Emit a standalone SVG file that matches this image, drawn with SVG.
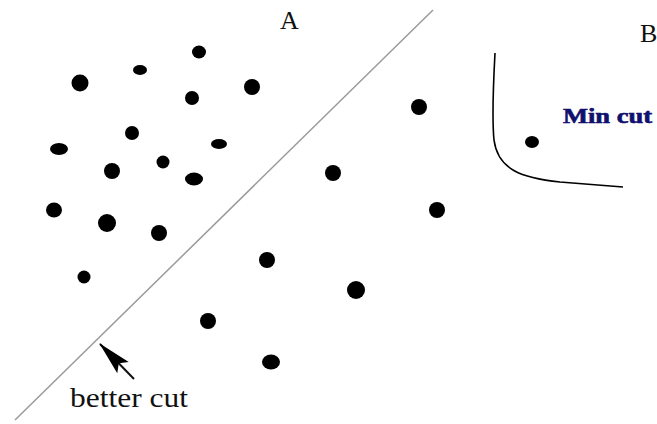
<svg xmlns="http://www.w3.org/2000/svg" width="657" height="424" viewBox="0 0 657 424">
<style>
.dot{fill:#000}
.lbl{font-family:"Liberation Serif","Times New Roman",serif;fill:#111}
.mc{font-family:"Liberation Serif","Times New Roman",serif;font-weight:bold;fill:#10106e;stroke:#10106e;stroke-width:0.6}
</style>
<defs>
<marker id="ah" viewBox="0 0 34 18" refX="33" refY="9" markerWidth="34" markerHeight="18" markerUnits="userSpaceOnUse" orient="auto">
<path d="M0,1 L34,9 L0,17 L6,9 Z" fill="#000"/>
</marker>
</defs>
<rect width="657" height="424" fill="#fff"/>
<g id="connectors">
<line id="better-cut-line" x1="433" y1="10" x2="15" y2="420" stroke="#9a9a9a" stroke-width="1.5"/>
<path id="min-cut-curve" d="M495,53 C493,90 492,120 494,140 C498,170 522,178 560,182 L623,187" fill="none" stroke="#000" stroke-width="1.6"/>
<line id="better-cut-arrow" x1="134" y1="379" x2="100" y2="344" stroke="#111" stroke-width="2" marker-end="url(#ah)"/>
</g>
<g id="labels">
<text id="label-A" class="lbl" x="280" y="29" font-size="26">A</text>
<text id="label-B" class="lbl" x="640" y="42" font-size="26">B</text>
<text id="label-min-cut" class="mc" x="563" y="123" font-size="21" textLength="89" lengthAdjust="spacingAndGlyphs">Min cut</text>
<text id="label-better-cut" class="lbl" x="70" y="407" font-size="28" textLength="118" lengthAdjust="spacingAndGlyphs">better cut</text>
</g>
<g id="nodes">
<g id="n1"><ellipse class="dot" cx="80" cy="83" rx="8.5" ry="8.5"/></g>
<g id="n2"><ellipse class="dot" cx="140" cy="70" rx="7" ry="5"/></g>
<g id="n3"><ellipse class="dot" cx="199" cy="52" rx="7" ry="6.5"/></g>
<g id="n4"><ellipse class="dot" cx="252" cy="87" rx="8" ry="8"/></g>
<g id="n5"><ellipse class="dot" cx="192" cy="98" rx="7" ry="7"/></g>
<g id="n6"><ellipse class="dot" cx="132" cy="133" rx="7" ry="7"/></g>
<g id="n7"><ellipse class="dot" cx="59" cy="149" rx="9" ry="6"/></g>
<g id="n8"><ellipse class="dot" cx="219" cy="144" rx="8" ry="5"/></g>
<g id="n9"><ellipse class="dot" cx="163" cy="162" rx="6.5" ry="6.5"/></g>
<g id="n10"><ellipse class="dot" cx="112" cy="171" rx="8" ry="8"/></g>
<g id="n11"><ellipse class="dot" cx="194" cy="179" rx="9" ry="6.5"/></g>
<g id="n12"><ellipse class="dot" cx="54" cy="210" rx="8" ry="7.5"/></g>
<g id="n13"><ellipse class="dot" cx="107" cy="223" rx="9" ry="9"/></g>
<g id="n14"><ellipse class="dot" cx="159" cy="233" rx="8" ry="8"/></g>
<g id="n15"><ellipse class="dot" cx="84" cy="277" rx="6.5" ry="6.5"/></g>
<g id="n16"><ellipse class="dot" cx="267" cy="260" rx="8" ry="8"/></g>
<g id="n17"><ellipse class="dot" cx="208" cy="321" rx="8" ry="8"/></g>
<g id="n18"><ellipse class="dot" cx="271" cy="362" rx="9" ry="7.5"/></g>
<g id="n19"><ellipse class="dot" cx="419" cy="107" rx="8" ry="8"/></g>
<g id="n20"><ellipse class="dot" cx="333" cy="173" rx="8" ry="8"/></g>
<g id="n21"><ellipse class="dot" cx="437" cy="210" rx="8" ry="8"/></g>
<g id="n22"><ellipse class="dot" cx="356" cy="290" rx="9" ry="9"/></g>
<g id="n23"><ellipse class="dot" cx="532" cy="142" rx="7" ry="6"/></g>
</g>
</svg>
